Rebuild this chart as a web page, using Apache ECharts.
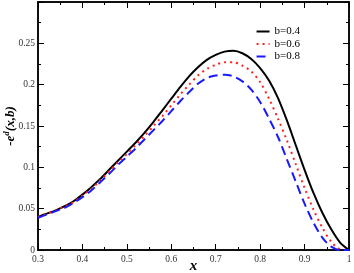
<!DOCTYPE html>
<html><head><meta charset="utf-8">
<script src="https://cdn.jsdelivr.net/npm/echarts@6/dist/echarts.min.js"></script>
<style>html,body{margin:0;padding:0;background:#fff}#c{width:354px;height:273px}</style>
</head><body><div id="c"></div>
<script>
const xs = [0.30,0.32,0.34,0.36,0.38,0.40,0.42,0.44,0.46,0.48,0.50,0.52,0.54,0.56,0.58,0.60,0.62,0.64,0.66,0.68,0.70,0.72,0.74,0.76,0.78,0.80,0.82,0.84,0.86,0.88,0.90,0.92,0.94,0.96,0.98,1.00];
const b04 = [0.040,0.044,0.048,0.053,0.059,0.067,0.076,0.086,0.097,0.108,0.119,0.130,0.142,0.155,0.169,0.183,0.197,0.210,0.221,0.230,0.236,0.240,0.241,0.238,0.231,0.220,0.205,0.184,0.157,0.127,0.097,0.069,0.045,0.025,0.009,0.000];
const b06 = [0.040,0.044,0.048,0.053,0.058,0.066,0.074,0.084,0.095,0.106,0.116,0.127,0.138,0.150,0.162,0.175,0.188,0.200,0.211,0.219,0.224,0.227,0.227,0.223,0.216,0.203,0.183,0.159,0.133,0.104,0.075,0.049,0.027,0.010,0.001,0.000];
const b08 = [0.039,0.043,0.047,0.051,0.057,0.064,0.072,0.082,0.092,0.103,0.113,0.123,0.134,0.145,0.156,0.168,0.180,0.191,0.201,0.208,0.211,0.212,0.210,0.204,0.194,0.179,0.159,0.137,0.110,0.083,0.056,0.033,0.015,0.004,0.000,0.000];
const names = ['b=0.4','b=0.6','b=0.8'];
const xTicks = [0.3,0.4,0.5,0.6,0.7,0.8,0.9,1];
const yTicks = [0,0.05,0.1,0.15,0.2,0.25];

const font = 'Liberation Serif';
const pair = a => xs.map((x,i)=>[x,a[i]]);
const axLine = () => ({show:true, onZero:false, lineStyle:{color:'#000', width:1.5}});
const tick = () => ({show:true, inside:true, length:6, lineStyle:{color:'#000', width:1}});
const minor = () => ({show:true, splitNumber:2, length:3, lineStyle:{color:'#000', width:1}});
const chart = echarts.init(document.getElementById('c'));
chart.setOption({
  animation:false,
  grid:{left:38, right:5, top:2, bottom:23, containLabel:false, outerBoundsMode:'none',
        show:true, borderColor:'#000', borderWidth:1.5, backgroundColor:'transparent'},
  legend:{
    right:49, top:21, orient:'vertical', itemGap:1.5, itemWidth:13, itemHeight:11,
    textStyle:{fontFamily:font, fontSize:11, color:'#000'},
    itemStyle:{opacity:0},
    data:names
  },
  xAxis:[{
    type:'value', min:0.3, max:1, interval:0.1,
    axisLine:axLine(), axisTick:tick(), minorTick:minor(), splitLine:{show:false},
    axisLabel:{fontFamily:font, fontSize:9.5, color:'#333', margin:4,
      formatter:v=>{const t=xTicks.find(k=>Math.abs(k-v)<1e-6); return t===undefined?'':String(t);}},
    name:'x', nameLocation:'middle', nameGap:9, nameMoveOverlap:false,
    nameTextStyle:{fontFamily:font, fontSize:15, fontWeight:'bold', fontStyle:'italic', color:'#000'}
  },{
    type:'value', position:'top', min:0.3, max:1, interval:0.1,
    axisLine:axLine(), axisTick:tick(), minorTick:minor(), splitLine:{show:false}, axisLabel:{show:false}
  }],
  yAxis:[{
    type:'value', min:0, max:0.3, interval:0.05,
    axisLine:axLine(), axisTick:tick(), minorTick:minor(), splitLine:{show:false},
    axisLabel:{fontFamily:font, fontSize:9.5, color:'#333', margin:3,
      formatter:v=>{const t=yTicks.find(k=>Math.abs(k-v)<1e-6); return t===undefined?'':String(t);}},
    name:'-e{sup|d}(x,b)', nameLocation:'middle', nameGap:18, nameMoveOverlap:false,
    nameTextStyle:{fontFamily:font, fontSize:13, fontWeight:'bold', fontStyle:'italic', color:'#000',
      rich:{sup:{fontFamily:font, fontSize:9, fontWeight:'bold', fontStyle:'italic', color:'#000', verticalAlign:'top', padding:[0,0,9,0]}}}
  },{
    type:'value', position:'right', min:0, max:0.3, interval:0.05,
    axisLine:axLine(), axisTick:tick(), minorTick:minor(), splitLine:{show:false}, axisLabel:{show:false}
  }],
  series:[
    {name:names[0], type:'line', data:pair(b04), smooth:0.3, showSymbol:false, symbol:'none',
     lineStyle:{color:'#000', width:2}, itemStyle:{color:'#000'}},
    {name:names[1], type:'line', data:pair(b06), smooth:0.3, showSymbol:false, symbol:'none',
     lineStyle:{color:'#ff2020', width:2, type:[2,4]}, itemStyle:{color:'#ff2020'}},
    {name:names[2], type:'line', data:pair(b08), smooth:0.3, showSymbol:false, symbol:'none',
     lineStyle:{color:'#1a1aff', width:2, type:[9,5]}, itemStyle:{color:'#1a1aff'}},
    {type:'line', xAxisIndex:1, yAxisIndex:1, data:[[0.5,0.1]], symbol:'none', silent:true, lineStyle:{opacity:0}}
  ]
});
</script></body></html>
